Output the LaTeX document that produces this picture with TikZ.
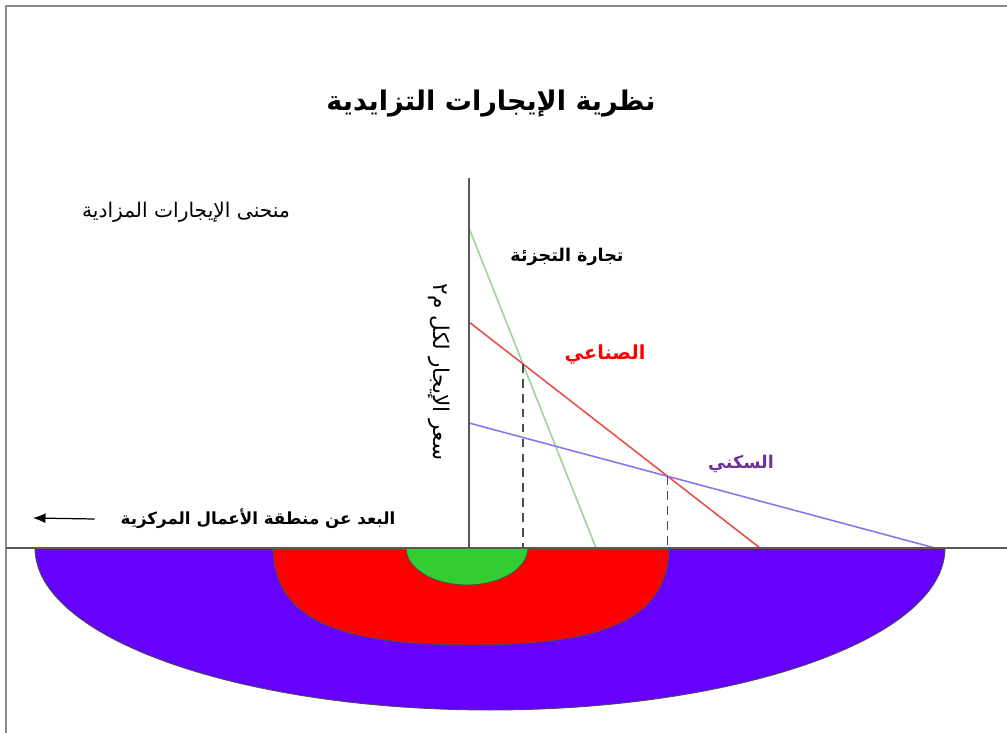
\documentclass[tikz,border=0pt]{standalone}
\usepackage{fontspec}
\newfontfamily\arabicfont[Script=Arabic]{DejaVu Sans}
\TeXXeTstate=1
\usetikzlibrary{arrows.meta}
\definecolor{framegray}{HTML}{8C8C8C}
\definecolor{retailfill}{HTML}{33CC33}
\definecolor{retailline}{HTML}{9AD49A}
\definecolor{indfill}{HTML}{FF0000}
\definecolor{indline}{HTML}{E8504A}
\definecolor{resfill}{HTML}{6600FF}
\definecolor{resline}{HTML}{8F74EC}
\definecolor{restext}{HTML}{7030A0}
\newcommand{\artxt}[1]{{\arabicfont\beginR #1\endR}}

\begin{document}
\begin{tikzpicture}[x=0.2mm,y=-0.2mm,>=Latex,
  zone/.style={draw=black!70,line width=0.5pt},
  bid/.style={line width=0.9pt},
  lbl/.style={inner sep=1pt,font=\fontsize{10}{12}\selectfont\bfseries},
  drop/.style={dash pattern=on 5pt off 3.5pt,line width=0.8pt,black!70}]
\useasboundingbox (0,0) rectangle (1007,733);
\draw[framegray,line width=1.2pt] (6,733) -- (6,6) -- (1007,6);
\coordinate (O) at (469,548);
\coordinate (ytop) at (469,178);
\coordinate (xl) at (6,548);
\coordinate (xr) at (1007,548);
\coordinate (g1) at (469,228);
\coordinate (g2) at (596,548);
\coordinate (r1) at (469,322);
\coordinate (r2) at (760,548);
\coordinate (p1) at (469,423);
\coordinate (p2) at (935,548);
\begin{scope}
\clip (0,548) rectangle (1007,733);
\draw[zone,fill=resfill] (490,548) ellipse [x radius=455,y radius=162];
\draw[zone,fill=indfill] (273,540) -- (273,548) .. controls (274,618) and (335,645) .. (471,645)
  .. controls (607,645) and (668,618) .. (669,548) -- (669,540) -- cycle;
\draw[zone,fill=retailfill] (467,548) ellipse [x radius=61,y radius=37];
\end{scope}
\draw[bid,retailline] (g1) -- (g2);
\draw[bid,indline] (r1) -- (r2);
\draw[bid,resline] (p1) -- (p2);
\coordinate (gr) at (intersection of g1--g2 and r1--r2);
\coordinate (rp) at (intersection of r1--r2 and p1--p2);
\draw[drop] (gr) -- (gr |- O);
\draw[drop] (rp) -- (rp |- O);
\draw[line width=1pt,black!65] (xl) -- (xr);
\draw[line width=1pt,black!65] (O) -- (ytop);
\node[font=\fontsize{15.4}{18}\selectfont\bfseries] (title) at (491,104) {\artxt{نظرية الإيجارات  التزايدية}};
\node[font=\fontsize{11.5}{13}\selectfont] (curve) at (186,212) {\artxt{منحنى الإيجارات المزادية}};
\node[lbl] (retail) at (567,257) {\artxt{تجارة التجزئة}};
\node[lbl,font=\fontsize{11}{13}\selectfont\bfseries,text=indfill] (ind) at (605,355) {\artxt{الصناعي}};
\node[lbl,text=restext] (res) at (741,464) {\artxt{السكني}};
\node[rotate=-90,font=\fontsize{12.3}{14}\selectfont] (ylbl) at (439,372) {\artxt{سعر الإيجار لكل م٢}};
\node[lbl,font=\fontsize{9.5}{11}\selectfont\bfseries] (xlbl) at (258,519) {\artxt{البعد عن منطقة الأعمال المركزية}};
\coordinate (xarr) at (33,518);
\draw[-{Latex[length=2.5mm,width=2mm]},line width=0.7pt] (xlbl.west) ++(-24,0) coordinate (xtail) -- (xarr);
\end{tikzpicture}
\end{document}
